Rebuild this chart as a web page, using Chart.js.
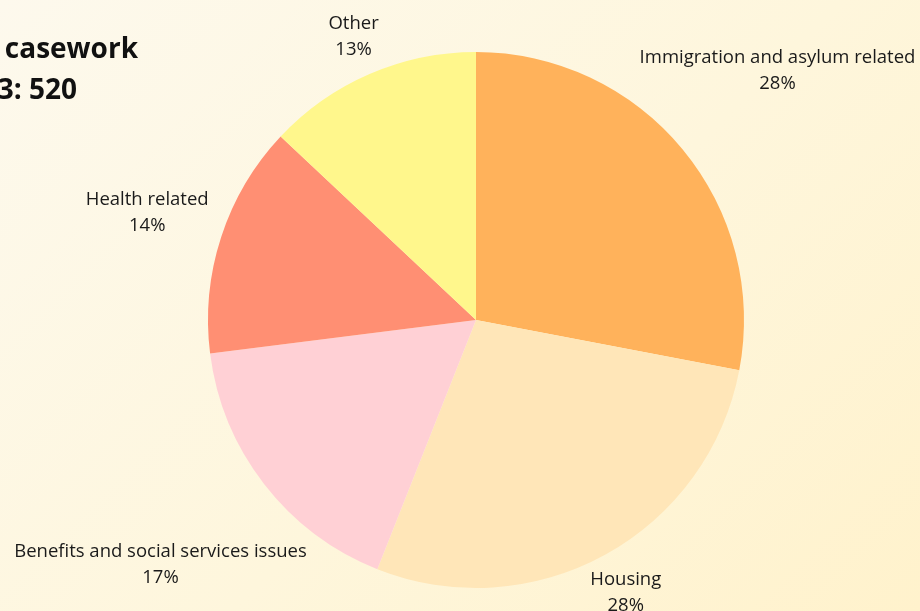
<!DOCTYPE html>
<html>
<head>
<meta charset="utf-8">
<script src="https://cdn.jsdelivr.net/npm/chart.js@4.4.1/dist/chart.umd.min.js"></script>
<style>
  html, body { margin: 0; padding: 0; }
  body {
    width: 920px; height: 611px; overflow: hidden;
    background: linear-gradient(135deg, #fdf9ed 0%, #fef6dc 55%, #fff2cc 100%);
  }
  #wrap { position: relative; width: 920px; height: 611px; }
</style>
</head>
<body>
<div id="wrap"><canvas id="pie"></canvas></div>
<script>
// categories and shares (%)
const categories = [
  'Immigration and asylum related',
  'Housing',
  'Benefits and social services issues',
  'Health related',
  'Other'
]
const shares = [28, 28, 17, 14, 13]
const sliceColors = ['#ffb25b', '#ffe6b8', '#ffd0d5', '#ff8f73', '#fff78c']

const titleLines = ['Types of casework', 'Total in 2023: 520']

// how far out each label sits, as a multiple of the pie radius
const labelReach = [1.46, 1.16, 1.49, 1.29, 1.15]

// draws "label / nn%" outside every slice
const outsideLabels = {
  id: 'outsideLabels',
  afterDatasetsDraw(chart) {
    const ctx = chart.ctx
    const meta = chart.getDatasetMeta(0)
    ctx.save()
    ctx.fillStyle = '#1a1a1a'
    ctx.textAlign = 'center'
    ctx.textBaseline = 'middle'
    ctx.font = '18.5px "Open Sans"'
    meta.data.forEach((arc, i) => {
      const mid = (arc.startAngle + arc.endAngle) / 2
      const d = arc.outerRadius * labelReach[i]
      const x = arc.x + Math.cos(mid) * d
      const y = arc.y + Math.sin(mid) * d
      ctx.fillText(categories[i], x, y - 13)
      ctx.fillText(shares[i] + '%', x, y + 13)
    })
    ctx.restore()
  }
}

// the title runs off the left edge of the picture
const clippedTitle = {
  id: 'clippedTitle',
  afterDraw(chart) {
    const ctx = chart.ctx
    ctx.save()
    ctx.fillStyle = '#111'
    ctx.font = 'bold 28px "Open Sans"'
    ctx.textAlign = 'right'
    ctx.textBaseline = 'alphabetic'
    ctx.fillText(titleLines[0], 138, 58)
    ctx.fillText(titleLines[1], 77, 99)
    ctx.restore()
  }
}

const canvas = document.getElementById('pie')
new Chart(canvas.getContext('2d'), {
  type: 'pie',
  data: {
    labels: categories,
    datasets: [{
      data: shares,
      backgroundColor: sliceColors,
      borderWidth: 0
    }]
  },
  options: {
    responsive: true,
    maintainAspectRatio: false,
    animation: false,
    layout: { padding: { top: 52, bottom: 23, left: 208, right: 176 } },
    plugins: {
      legend: { display: false },
      tooltip: { enabled: false }
    }
  },
  plugins: [outsideLabels, clippedTitle]
})
</script>
</body>
</html>
